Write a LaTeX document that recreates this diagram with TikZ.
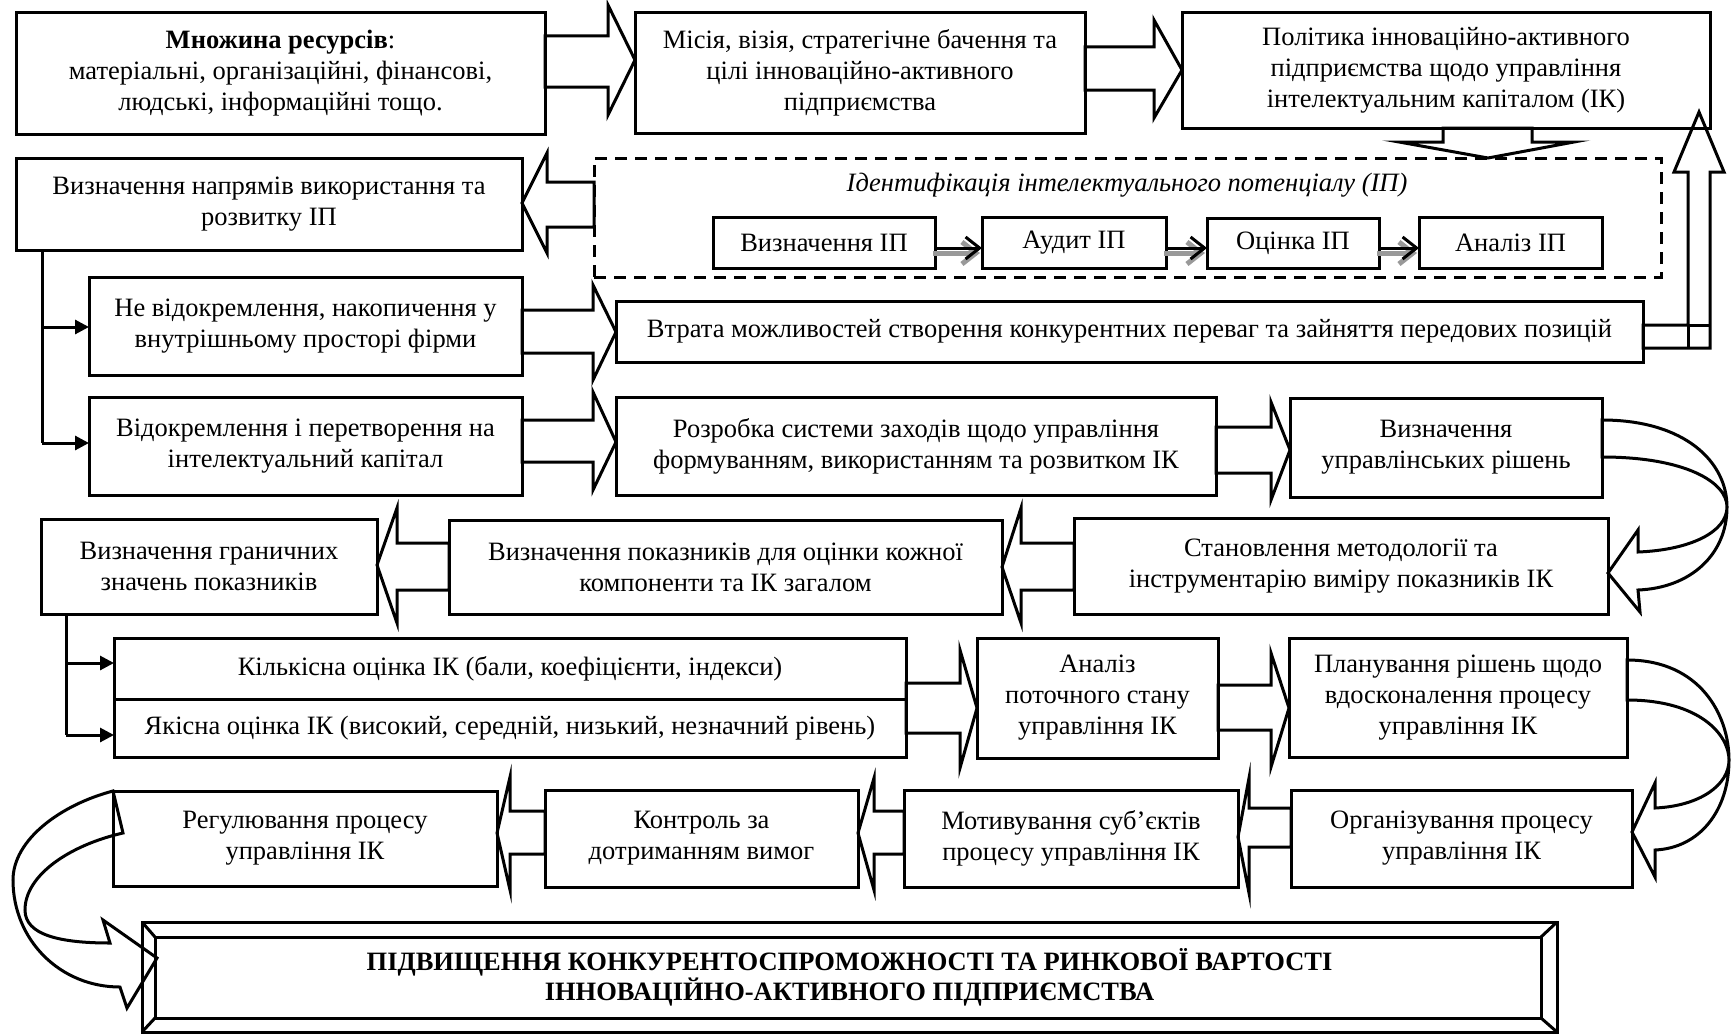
\documentclass[tikz,border=0pt]{standalone}
\usepackage{fontspec}
\setmainfont{Liberation Serif}
\usetikzlibrary{arrows.meta,backgrounds,calc}
\newcommand\fs{\fontsize{26.5}{31}\selectfont}
\tikzset{
  box/.style={draw, line width=3pt, align=center, inner sep=0pt, outer sep=0pt, anchor=north west, font=\fs},
  blk/.style={draw, fill=white, line width=3pt, line join=miter, miter limit=20},
  conn/.style={line width=3pt},
  tri/.style={-{Triangle[length=14pt,width=14pt]}},
  curv/.style={draw, line width=3pt, line join=miter, miter limit=20},
  karr/.style={line width=3pt, -{Straight Barb[length=14pt,width=22pt]}},
  gsh/.style={draw=black!40, line width=5pt, -{Straight Barb[length=14pt,width=22pt]}, transform canvas={shift={(-2pt,-5pt)}}}
}
\newcommand\bx[7][]{\pgfmathsetmacro\bxw{#5-#3}\pgfmathsetmacro\bxh{#6-#4}%
  \node[box,#1,minimum width=\bxw pt,minimum height=\bxh pt] (#2) at (#3,#4) {#7};}
% hollow block arrow to the right: tail node, tip node, base x, shaft y1,y2, head y1,y2, tip y
\newcommand\hR[8]{\draw[blk] (#1.east|-0,#4) -- (#3,#4) -- (#3,#6) -- (#2.west|-0,#8) -- (#3,#7) -- (#3,#5) -- (#1.east|-0,#5) -- cycle;}
\newcommand\hL[8]{\draw[blk] (#1.west|-0,#4) -- (#3,#4) -- (#3,#6) -- (#2.east|-0,#8) -- (#3,#7) -- (#3,#5) -- (#1.west|-0,#5) -- cycle;}
\begin{document}
\begin{tikzpicture}[x=1pt,y=-1pt]
\useasboundingbox (0,0) rectangle (1731,1033);
% ---------- boxes ----------
\bx{A}{16}{13}{545}{134}{\textbf{Множина ресурсів}:\\матеріальні, організаційні, фінансові,\\людські, інформаційні тощо.}
\bx{B}{635}{13}{1085}{133}{Місія, візія, стратегічне бачення та\\цілі інноваційно-активного\\підприємства}
\bx{C}{1182}{13}{1710}{128}{Політика інноваційно-активного\\підприємства щодо управління\\інтелектуальним капіталом (ІК)}
\bx[dashed,dash pattern=on 12pt off 8pt]{D}{594}{158}{1661}{277}{}
\node[font=\fs\itshape, inner sep=0pt] (Dt) at (1127,185) {Ідентифікація інтелектуального потенціалу (ІП)};
\bx{E1}{713}{217}{935}{268}{Визначення ІП}
\bx{E2}{982}{217}{1166}{268}{Аудит ІП}
\bx{E3}{1207}{218}{1379}{268}{Оцінка ІП}
\bx{E4}{1419}{217}{1602}{268}{Аналіз ІП}
\bx{F}{16}{158}{522}{250}{Визначення напрямів використання та\\розвитку ІП}
\bx{G}{89}{277}{522}{375}{Не відокремлення, накопичення у\\внутрішньому просторі фірми}
\bx{I}{616}{301}{1643}{362}{Втрата можливостей створення конкурентних переваг та зайняття передових позицій}
\bx{H}{89}{397}{522}{495}{Відокремлення і перетворення на\\інтелектуальний капітал}
\bx{J}{616}{397}{1216}{495}{Розробка системи заходів щодо управління\\формуванням, використанням та розвитком ІК}
\bx{K}{1290}{398}{1602}{497}{Визначення\\управлінських рішень}
\bx{N}{41}{519}{377}{614}{Визначення граничних\\значень показників}
\bx{M}{449}{520}{1002}{614}{Визначення показників для оцінки кожної\\компоненти та ІК загалом}
\bx{L}{1074}{518}{1608}{614}{Становлення методології та\\інструментарію виміру показників ІК}
\bx{O1}{114}{638}{906}{699}{Кількісна оцінка ІК (бали, коефіцієнти, індекси)}
\bx{O2}{114}{699}{906}{757}{Якісна оцінка ІК (високий, середній, низький, незначний рівень)}
\bx{P}{977}{638}{1218}{758}{Аналіз\\поточного стану\\управління ІК}
\bx{Q}{1289}{638}{1627}{757}{Планування рішень щодо\\вдосконалення процесу\\управління ІК}
\bx{U}{113}{791}{497}{886}{Регулювання процесу\\управління ІК}
\bx{T}{545}{790}{858}{887}{Контроль за\\дотриманням вимог}
\bx{S}{904}{790}{1238}{887}{Мотивування суб’єктів\\процесу управління ІК}
\bx{R}{1291}{790}{1632}{887}{Організування процесу\\управління ІК}
\bx{V}{142}{922}{1557}{1032}{\textbf{ПІДВИЩЕННЯ КОНКУРЕНТОСПРОМОЖНОСТІ ТА РИНКОВОЇ ВАРТОСТІ}\\[-1pt]\textbf{ІННОВАЦІЙНО-АКТИВНОГО ПІДПРИЄМСТВА}}
% bevel of final box
\draw[conn] (155,937) rectangle (1541,1018);
\draw[conn] (V.north west) -- (155,937) (V.north east) -- (1541,937)
            (V.south west) -- (155,1018) (V.south east) -- (1541,1018);
% ---------- helper coordinates ----------
\coordinate (ctip) at (1699,112);
\coordinate (vtip) at (157,958);
\coordinate (j0) at (42,0);
\coordinate (j1) at (42,327);
\coordinate (j2) at (42,443);
\coordinate (k0) at (66,0);
\coordinate (k1) at (66,663);
\coordinate (k2) at (66,735);
% ---------- block arrows (behind) ----------
\begin{pgfonlayer}{background}
\fill[white] (0,0) rectangle (1731,1033);
\hR{A}{B}{608}{36}{87}{5}{115}{60}
\hR{B}{C}{1154}{47}{90}{20}{118}{70}
\draw[blk] (C.south-|1443,0) -- (1443,142) -- (1399,142) -- (D.north-|1488,0) -- (1574,142) -- (1532,142) -- (C.south-|1532,0) -- cycle;
\hL{D}{F}{547}{182}{227}{153}{253}{203}
\hR{G}{I}{593}{310}{353}{285}{380}{332}
\hR{H}{J}{593}{420}{462}{392}{490}{442}
\hR{J}{K}{1271}{427}{473}{402}{500}{450}
\hL{L}{M}{1021}{543}{590}{508}{623}{567}
\hL{M}{N}{397}{543}{590}{508}{623}{565}
\hR{O2}{P}{960}{683}{733}{650}{768}{708}
\hR{P}{Q}{1271}{685}{730}{653}{767}{708}
\hL{R}{S}{1249}{808}{847}{778}{893}{837}
\hL{S}{T}{874}{811}{854}{778}{890}{833}
\hL{T}{U}{510}{811}{854}{777}{890}{833}
% up arrow from loss box to policy box
\draw[blk] (I.east|-0,325) -- (1688,325) -- (1688,172) -- (1674,172) -- (ctip) -- (1724,172) -- (1710,172) -- (1710,348) -- (I.east|-0,348) -- cycle;
\draw[conn] (1688,325) -- (1710,325) (1688,325) -- (1688,348);
\end{pgfonlayer}
% ---------- small arrows inside identification box ----------
\foreach \a/\b in {E1/E2,E2/E3,E3/E4}{
  \draw[gsh] (\a.east|-0,248) -- (\b.west|-0,248);
  \draw[karr] (\a.east|-0,248) -- (\b.west|-0,248);
}
% ---------- left connectors ----------
\draw[conn] (j0|-F.south) -- (j2);
\draw[conn,tri] (j1) -- (G.west|-j1);
\draw[conn,tri] (j2) -- (H.west|-j2);
\draw[conn] (k0|-N.south) -- (k2);
\draw[conn,tri] (k1) -- (O1.west|-k1);
\draw[conn,tri] (k2) -- (O2.west|-k2);
% ---------- curved arrows ----------
\draw[curv] (K.east|-0,457) -- (K.east|-0,420) .. controls (1685,420) and (1727,462) .. (1727,507)
  .. controls (1727,555) and (1690,588) .. (1638,590) -- (1640,612) -- (L.east|-0,573) -- (1638,530) -- (1638,552)
  .. controls (1690,550) and (1727,532) .. (1727,507) .. controls (1727,482) and (1685,457) .. (K.east|-0,457) -- cycle;
\draw[curv] (Q.east|-0,700) -- (Q.east|-0,660) .. controls (1700,660) and (1729,715) .. (1729,760)
  .. controls (1729,810) and (1700,848) .. (1655,850) -- (1655,877) -- (R.east|-0,832) -- (1655,783) -- (1655,808)
  .. controls (1700,806) and (1729,785) .. (1729,760) .. controls (1729,735) and (1700,700) .. (Q.east|-0,700) -- cycle;
\draw[curv] (U.north west) -- (123,833) .. controls (70,845) and (25,875) .. (25,910)
  .. controls (25,935) and (60,943) .. (110,943) -- (103,920) -- (vtip) -- (127,1008) -- (120,987)
  .. controls (60,987) and (13,940) .. (13,880) .. controls (13,840) and (60,805) .. (U.north west) -- cycle;
\end{tikzpicture}
\end{document}
